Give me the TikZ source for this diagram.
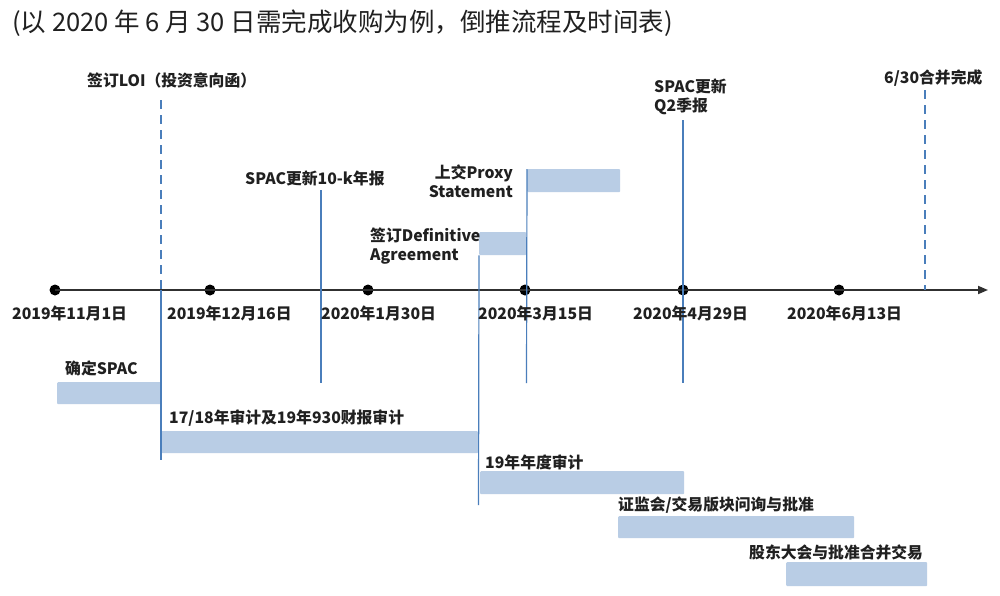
\documentclass[tikz,border=0pt]{standalone}
\usepackage{fontspec}
\setmainfont{Noto Sans CJK SC}
\usetikzlibrary{arrows.meta}
\definecolor{barblue}{HTML}{B9CDE5}
\definecolor{lineblue}{HTML}{4A7EBB}
\definecolor{axisgray}{HTML}{303030}
\definecolor{txt}{HTML}{202020}
\begin{document}
\begin{tikzpicture}[x=1pt,y=-1pt,
  lbl/.style={font=\fontsize{15.8}{19}\selectfont\bfseries, text=txt, inner sep=0, anchor=west},
  bar/.style={fill=barblue, draw=none, inner sep=0, anchor=north west, rounded corners=1pt},
  dot/.style={circle, fill=black, inner sep=0, minimum size=11pt},
  vline/.style={draw=lineblue, line width=1.2pt},
  dline/.style={vline, dash pattern=on 9pt off 6pt},
  axisline/.style={draw=axisgray, line width=1.8pt, -{Triangle[length=10pt,width=8pt]}}]
\useasboundingbox (0,0) rectangle (1000,595);
\fill[white] (0,0) rectangle (1000,595);

% title
\node[anchor=west, inner sep=0, text=txt, font=\fontsize{25.5}{30}\selectfont] (title) at (12,23)
  {(以 2020 年 6 月 30 日需完成收购为例，倒推流程及时间表)};

% bars
\node[bar, minimum width=104pt, minimum height=22pt] (bspac) at (57,382) {};
\node[bar, minimum width=317pt, minimum height=22pt] (baudit) at (161,431) {};
\node[bar, minimum width=204pt, minimum height=23pt] (bannual) at (480,471) {};
\node[bar, minimum width=236pt, minimum height=22pt] (bsec) at (618,516) {};
\node[bar, minimum width=141pt, minimum height=24pt] (bshare) at (786,562) {};
\node[bar, minimum width=47pt, minimum height=23pt] (bda) at (479,232) {};
\node[bar, minimum width=93pt, minimum height=23pt] (bproxy) at (527,169) {};

% axis and dots
\node[dot] (d1) at (55,290) {};
\node[dot] (d2) at (210,290) {};
\node[dot] (d3) at (368,290) {};
\node[dot] (d4) at (525,290) {};
\node[dot] (d5) at (683,290) {};
\node[dot] (d6) at (839,290) {};
\coordinate (axend) at (988,290);
\draw[axisline] (d1.center) -- (axend);

% vertical markers
\coordinate (loitop) at (161,100);
\coordinate (loiax) at (161,290);
\coordinate (loibot) at (161,460);
\draw[dline] (loitop) -- (loiax);
\draw[vline] (loiax) -- (loibot);

\coordinate (tktop) at (321,190);
\coordinate (tkbot) at (321,383);
\draw[vline] (tktop) -- (tkbot);

\coordinate (dabot) at (478.5,505);
\draw[vline] (bda.south west) -- (dabot);

\coordinate (pxbot) at (526.5,383);
\draw[vline] (bproxy.north west) -- (pxbot);

\coordinate (q2top) at (683,120);
\coordinate (q2bot) at (683,383);
\draw[vline] (q2top) -- (q2bot);

\coordinate (fintop) at (925,90);
\coordinate (finax) at (925,290);
\draw[dline] (fintop) -- (finax);

% labels above
\node[lbl] (lloi) at (87,80) {签订LOI（投资意向函）};
\node[lbl] (l10k) at (245,178) {SPAC更新10-k年报};
\node[lbl, anchor=east, align=right] (lproxy) at (513,181) {上交Proxy\\Statement};
\node[lbl, align=left] (lda) at (370,246.5) {签订Definitive\\Agreement};
\node[lbl, align=left] (lq2) at (654,97) {SPAC更新\\Q2季报};
\node[lbl] (lfin) at (884,78) {6/30合并完成};

% dates
\node[lbl] (t1) at (12,313) {2019年11月1日};
\node[lbl] (t2) at (167,313) {2019年12月16日};
\node[lbl] (t3) at (321,313) {2020年1月30日};
\node[lbl] (t4) at (478,313) {2020年3月15日};
\node[lbl] (t5) at (633,313) {2020年4月29日};
\node[lbl] (t6) at (787,313) {2020年6月13日};

% bar labels
\node[lbl] (lspac) at (65,368) {确定SPAC};
\node[lbl] (laudit) at (169,418) {17/18年审计及19年930财报审计};
\node[lbl] (lannual) at (485,462) {19年年度审计};
\node[lbl] (lsec) at (618,505) {证监会/交易版块问询与批准};
\node[lbl] (lshare) at (749,552) {股东大会与批准合并交易};
\end{tikzpicture}
\end{document}
